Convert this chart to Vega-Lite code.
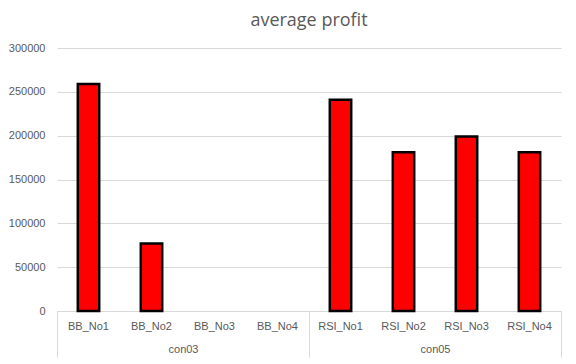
{
  "$schema": "https://vega.github.io/schema/vega-lite/v6.json",
  "autosize": {"type": "fit", "contains": "padding"},
  "width": 576,
  "height": 364,
  "padding": {"left": 8, "right": 14, "top": 12, "bottom": 6},
  "background": "white",
  "title": {"text": "average profit", "fontSize": 18, "font": "Open Sans", "fontWeight": "normal", "color": "#595959", "offset": 12},
  "config": {"view": {"stroke": null}, "axis": {"labelFont": "Liberation Sans", "labelFontSize": 11, "labelColor": "#595959"}},
  "data": {"values": [
    {"group": "con03", "name": "BB_No1", "profit": 259000},
    {"group": "con03", "name": "BB_No2", "profit": 77000},
    {"group": "con03", "name": "BB_No3", "profit": null},
    {"group": "con03", "name": "BB_No4", "profit": null},
    {"group": "con05", "name": "RSI_No1", "profit": 241000},
    {"group": "con05", "name": "RSI_No2", "profit": 181000},
    {"group": "con05", "name": "RSI_No3", "profit": 199000},
    {"group": "con05", "name": "RSI_No4", "profit": 181000}
  ]},
  "layer": [
    {
      "mark": {"type": "bar", "color": "#ff0000", "stroke": "#000000", "strokeWidth": 2.5},
      "encoding": {
        "x": {"field": "name", "type": "nominal", "sort": null,
          "scale": {"domain": ["BB_No1","BB_No2","BB_No3","BB_No4","RSI_No1","RSI_No2","RSI_No3","RSI_No4"], "paddingInner": 0.66, "paddingOuter": 0.33},
          "axis": {"orient": "bottom", "title": null, "labelAngle": 0, "ticks": false, "labelPadding": 9, "domain": true, "domainColor": "#d9d9d9", "grid": false}},
        "y": {"field": "profit", "type": "quantitative",
          "scale": {"domain": [0, 300000]},
          "axis": {"title": null, "values": [0,50000,100000,150000,200000,250000,300000], "format": "d", "domain": false, "ticks": false, "labelPadding": 12, "gridColor": "#d9d9d9", "gridWidth": 1}}
      }
    },
    {
      "mark": {"type": "tick", "opacity": 0},
      "encoding": {
        "x": {"field": "group", "type": "nominal",
          "scale": {"paddingInner": 0, "paddingOuter": 0},
          "axis": {"orient": "bottom", "title": null, "labelAngle": 0, "domain": false, "grid": false, "ticks": true, "tickBand": "extent", "tickSize": 46, "tickColor": "#d9d9d9", "labelPadding": -14}}
      }
    }
  ],
  "resolve": {"scale": {"x": "independent"}, "axis": {"x": "independent"}}
}
